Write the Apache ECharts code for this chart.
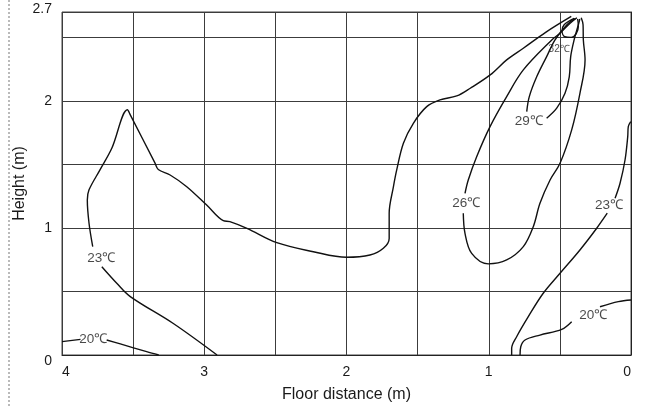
<!DOCTYPE html>
<html>
<head>
<meta charset="utf-8">
<script src="https://cdn.jsdelivr.net/npm/echarts@6/dist/echarts.min.js"></script>
<style>
  html, body { margin: 0; padding: 0; background: #fff; }
  #main { width: 646px; height: 408px; }
</style>
</head>
<body>
<div id="main"></div>
<script>
// isotherms: [floor distance (m), height (m)]
// a null marks the gap where the temperature label sits
var iso20Left = [[4, 0.105], [3.87, 0.123], null, [3.686, 0.118], [3.59, 0.087], [3.405, 0.026], [3.32, 0]];
var iso23Left = [[2.91, 0], [3.22, 0.25], [3.52, 0.46], [3.615, 0.565], [3.72, 0.695], null,
  [3.784, 0.853], [3.81, 1.037], [3.822, 1.22], [3.81, 1.30], [3.733, 1.457], [3.65, 1.627], [3.54, 1.93],
  [3.52, 1.89], [3.346, 1.51], [3.323, 1.46], [3.24, 1.417], [3.123, 1.325], [2.983, 1.18], [2.866, 1.057],
  [2.82, 1.05], [2.70, 0.997], [2.49, 0.884], [2.233, 0.813], [2.0, 0.769], [1.835, 0.787], [1.741, 0.84],
  [1.70, 0.918], [1.70, 1.115], [1.67, 1.325], [1.647, 1.457], [1.60, 1.667], [1.53, 1.824], [1.436, 1.955],
  [1.343, 2.008], [1.225, 2.039], [1.13, 2.10], [0.99, 2.205], [0.874, 2.323], [0.757, 2.415], [0.6, 2.54],
  [0.42, 2.665]];
var iso26 = [[0.38, 2.655], [0.43, 2.61], [0.499, 2.533], [0.557, 2.48], [0.757, 2.244], [0.874, 2.034],
  [0.991, 1.798], [1.085, 1.561], [1.144, 1.378], [1.167, 1.273], null,
  [1.179, 1.116], [1.167, 0.958], [1.12, 0.80], [1.003, 0.717], [0.874, 0.748], [0.757, 0.853], [0.687, 1.01],
  [0.64, 1.194], [0.569, 1.378], [0.499, 1.509], [0.417, 1.772], [0.359, 2.06], [0.323, 2.323], [0.335, 2.48],
  [0.337, 2.6], [0.35, 2.655]];
var iso29 = [[0.39, 2.65], [0.452, 2.598], [0.534, 2.48], [0.593, 2.349], [0.663, 2.19], [0.715, 2.034],
  [0.733, 1.916], null,
  [0.593, 1.864], [0.522, 1.943], [0.464, 2.06], [0.434, 2.19], [0.424, 2.349], [0.40, 2.48], [0.37, 2.6],
  [0.36, 2.645]];
var iso32 = [[0.40, 2.65], [0.47, 2.60], [0.485, 2.55], [0.465, 2.505], [0.42, 2.50], [0.385, 2.53],
  [0.37, 2.59], [0.375, 2.645]];
var iso23Right = [[0.002, 1.837], [0.019, 1.798], [0.023, 1.719], [0.042, 1.535], [0.077, 1.352], [0.112, 1.234], null,
  [0.167, 1.116], [0.241, 0.998], [0.359, 0.827], [0.499, 0.643], [0.617, 0.486], [0.722, 0.302],
  [0.804, 0.144], [0.839, 0.053], [0.839, 0]];
var iso20Right = [[0, 0.433], [0.089, 0.42], [0.218, 0.38], null,
  [0.417, 0.262], [0.487, 0.202], [0.64, 0.157], [0.745, 0.118], [0.775, 0.065], [0.78, 0]];

var labelNames = ['20℃', '23℃', '26℃', '29℃', '32℃', '23℃', '20℃'];
var labelPos = [[3.78, 0.125], [3.724, 0.761], [1.158, 1.194], [0.719, 1.837], [0.505, 2.405], [0.155, 1.181], [0.265, 0.315]];

var xLabels = [4, 3, 2, 1, 0];
var yLabels = [0, 1, 2, 2.7];

var chart = echarts.init(document.getElementById('main'));
var FONT = 'Liberation Sans, Arial, Helvetica, sans-serif';
var INK = '#1a1a1a';

function pieces(pts) {
  var out = [[]];
  pts.forEach(function (p) {
    if (p === null) out.push([]);
    else out[out.length - 1].push(p);
  });
  return out;
}

var series = [];
[iso20Left, iso23Left, iso26, iso29, iso32, iso23Right, iso20Right].forEach(function (curve) {
  pieces(curve).forEach(function (seg) {
    series.push({
      type: 'line',
      data: seg,
      smooth: 0.35,
      symbol: 'none',
      silent: true,
      lineStyle: { color: '#111', width: 1.4 }
    });
  });
});

series.push({
  type: 'scatter',
  symbolSize: 0,
  silent: true,
  data: labelPos.map(function (p, i) {
    return {
      value: p,
      name: labelNames[i],
      label: { fontSize: labelNames[i] === '32℃' ? 10 : 13.5 }
    };
  }),
  label: {
    show: true,
    position: 'inside',
    formatter: '{b}',
    color: INK,
    fontFamily: FONT
  }
});

function isIn(list, v) {
  for (var i = 0; i < list.length; i++) if (Math.abs(list[i] - v) < 1e-6) return true;
  return false;
}

chart.setOption({
  backgroundColor: '#fff',
  animation: false,
  grid: {
    left: 62, right: 15, top: 12, bottom: 53,
    outerBoundsMode: 'none',
    show: true, borderColor: '#444', borderWidth: 1
  },
  graphic: [{
    type: 'line',
    shape: { x1: 9, y1: 0, x2: 9, y2: 408 },
    style: { stroke: '#777', lineWidth: 1, lineDash: [2, 2] }
  }],
  xAxis: {
    type: 'value',
    min: 0,
    max: 4,
    interval: 0.5,
    inverse: true,
    name: 'Floor distance (m)',
    nameLocation: 'middle',
    nameGap: 32,
    nameMoveOverlap: false,
    nameTextStyle: { fontSize: 16, color: INK, fontFamily: FONT },
    axisLine: { show: true, lineStyle: { color: '#222' } },
    axisTick: { show: false },
    axisLabel: {
      fontSize: 14, color: INK, fontFamily: FONT, margin: 10,
      alignMinLabel: 'right', alignMaxLabel: 'left',
      formatter: function (v) { return isIn(xLabels, v) ? String(v) : ''; }
    },
    splitLine: { show: true, lineStyle: { color: '#3c3c3c', width: 1 } }
  },
  yAxis: {
    type: 'value',
    min: 0,
    max: 2.7,
    interval: 0.5,
    name: 'Height (m)',
    nameLocation: 'middle',
    nameGap: 34,
    nameMoveOverlap: false,
    nameTextStyle: { fontSize: 16, color: INK, fontFamily: FONT },
    axisLine: { show: true, lineStyle: { color: '#222' } },
    axisTick: { show: false },
    axisLabel: {
      fontSize: 14, color: INK, fontFamily: FONT, margin: 10,
      formatter: function (v) {
        if (!isIn(yLabels, v)) return '';
        if (Math.abs(v - 2.7) < 1e-6) return '{top|2.7}';
        if (v === 0) return '{bot|0}';
        return String(v);
      },
      rich: {
        top: { fontSize: 14, color: INK, fontFamily: FONT, padding: [0, 0, 6, 0] },
        bot: { fontSize: 14, color: INK, fontFamily: FONT, padding: [12, 0, 0, 0] }
      }
    },
    splitLine: { show: true, lineStyle: { color: '#3c3c3c', width: 1 } }
  },
  series: series
});
</script>
</body>
</html>
